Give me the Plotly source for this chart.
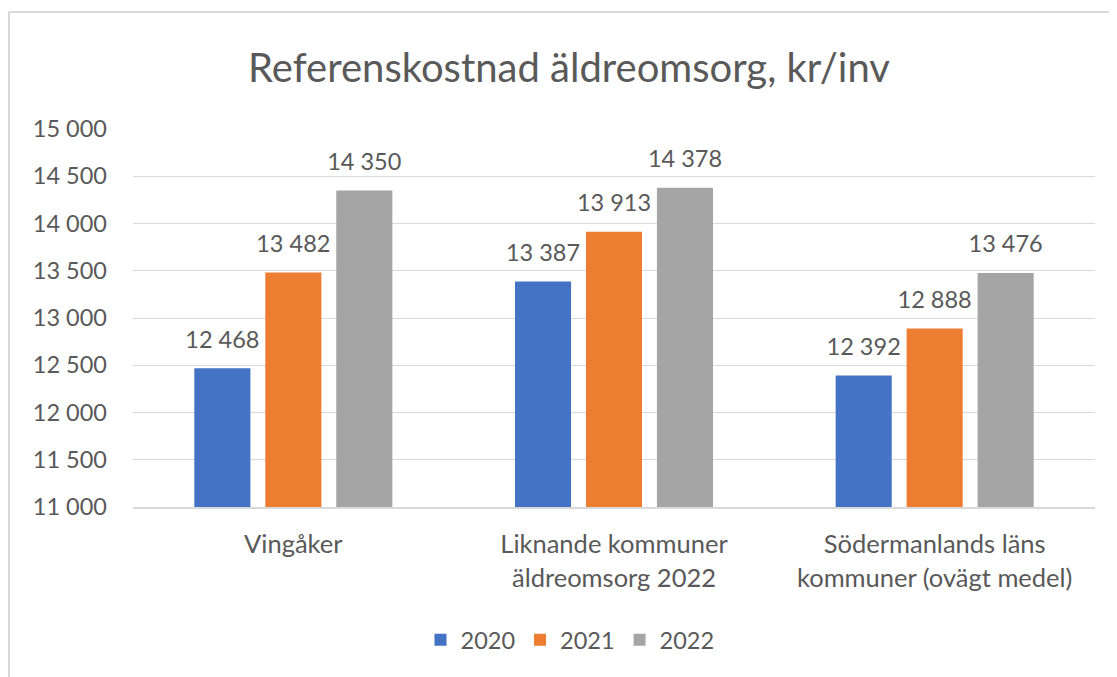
import plotly.graph_objects as go

# Data
categories = ["Vingåker", "Liknande kommuner<br>äldreomsorg 2022", "Södermanlands läns<br>kommuner (ovägt medel)"]
years = ["2020", "2021", "2022"]
values_2020 = [12468, 13387, 12392]
values_2021 = [13482, 13913, 12888]
values_2022 = [14350, 14378, 13476]
colors = ["#4472C4", "#ED7D31", "#A5A5A5"]

FONT = "Lato, Calibri, sans-serif"
TEXT_GREY = "#595959"

# page has an 8px body margin, so the plot box is placed 8px up/left of the reference
L, R, T, B = 125, 30, 121, 178
W, H = 1117, 677
PW, PH = W - L - R, H - T - B

fig = go.Figure()
for year, vals, col in zip(years, [values_2020, values_2021, values_2022], colors):
    fig.add_trace(go.Bar(
        x=categories,
        y=vals,
        name=year,
        marker=dict(color=col, line=dict(width=0)),
        hoverinfo="x+y+name",
    ))

# value labels, grouped like the bars, lifted above bar tops by an invisible marker
for year, vals in zip(years, [values_2020, values_2021, values_2022]):
    fig.add_trace(go.Scatter(
        x=categories,
        y=vals,
        mode="markers+text",
        text=[f"{v:,}".replace(",", " ") for v in vals],
        textposition="top center",
        textfont=dict(size=23.5, color="#595959", family=FONT),
        marker=dict(size=22, opacity=0),
        showlegend=False,
        hoverinfo="skip",
        cliponaxis=False,
    ))

fig.update_layout(
    width=W,
    height=H,
    margin=dict(l=L, r=R, t=T, b=B, autoexpand=False),
    paper_bgcolor="white",
    plot_bgcolor="white",
    separators=", ",
    barmode="group",
    bargap=0.336,
    bargroupgap=0.21,
    scattermode="group",
    scattergap=0.336,
    font=dict(family=FONT, color=TEXT_GREY, size=19),
    title=dict(
        text="Referenskostnad äldreomsorg, kr/inv",
        x=561 / W, xref="container", xanchor="center",
        y=(H - 60) / H, yref="container", yanchor="middle",
        font=dict(size=40, color=TEXT_GREY, family=FONT),
    ),
    legend=dict(
        orientation="h",
        x=(562 - L) / PW, xanchor="center",
        y=(H - B - 632) / PH, yanchor="middle",
        font=dict(size=23.5, color=TEXT_GREY),
        traceorder="normal",
    ),
    shapes=[
        dict(type="line", xref="paper", yref="paper",
             x0=(1 - L) / PW, x1=1.1, y0=(H - B - 4) / PH, y1=(H - B - 4) / PH,
             line=dict(color="#D9D9D9", width=2)),
        dict(type="line", xref="paper", yref="paper",
             x0=(1 - L) / PW, x1=(1 - L) / PW, y0=(H - B - 4) / PH, y1=-0.5,
             line=dict(color="#D9D9D9", width=2)),
    ],
)

fig.update_yaxes(
    range=[11000, 15000],
    dtick=500,
    tickformat=",.0f",
    showgrid=True,
    gridcolor="#D9D9D9",
    gridwidth=1,
    zeroline=False,
    showline=False,
    ticks="",
    ticklabelstandoff=25,
    tickfont=dict(size=23.5, color=TEXT_GREY),
)
fig.update_xaxes(
    showline=True,
    linecolor="#D9D9D9",
    linewidth=1.5,
    ticks="",
    tickangle=0,
    ticklabelstandoff=14,
    tickfont=dict(size=25.5, color=TEXT_GREY),
)

fig.write_html("out.html")
